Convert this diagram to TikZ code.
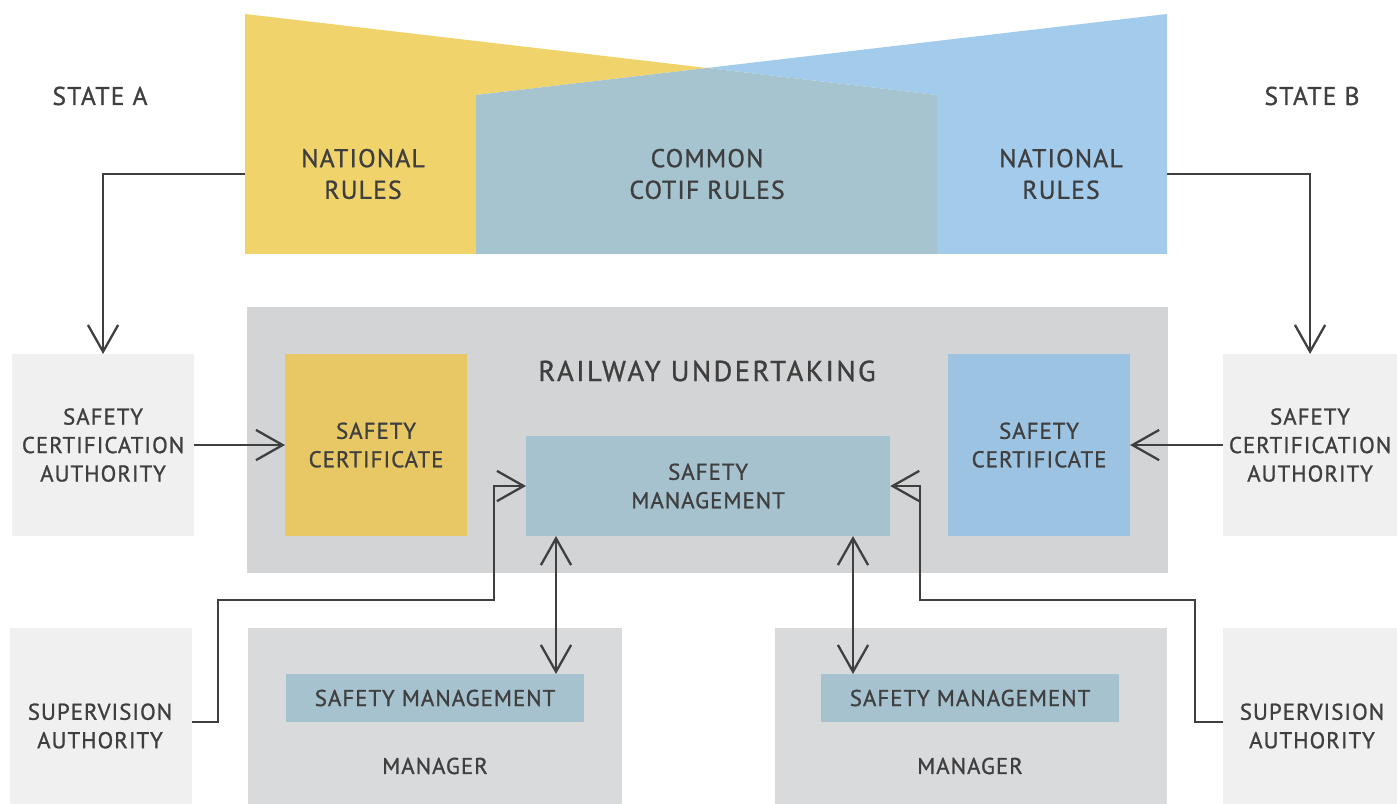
\documentclass[tikz,border=0pt]{standalone}
\usepackage{fontspec}
\setmainfont{PT Sans}[LetterSpace=4.5,FakeBold=1]
\usetikzlibrary{arrows.meta,positioning,calc}

\definecolor{ink}{HTML}{3F3F3F}
\definecolor{natyellow}{HTML}{F0D36B}
\definecolor{natblue}{HTML}{A2CBEC}
\definecolor{cotif}{HTML}{A5C4CF}
\definecolor{rugrey}{HTML}{D3D4D6}
\definecolor{authgrey}{HTML}{F0F0F0}
\definecolor{certyellow}{HTML}{E8C864}
\definecolor{certblue}{HTML}{9DC3E3}
\definecolor{mangrey}{HTML}{D9DADC}
\definecolor{smteal}{HTML}{A5C2CE}

\tikzset{
  box/.style={inner sep=0pt, outer sep=0pt, anchor=north west, text=ink, align=center},
  big/.style={text=ink, align=center, font=\fontsize{7.3}{9}\selectfont},
  small/.style={font=\fontsize{6.5}{8.1}\selectfont},
  arr/.style={draw=ink, line width=0.65pt, -{Straight Barb[length=7.6pt,width=8.6pt,line width=0.65pt]}},
  dbl/.style={arr, {Straight Barb[length=7.6pt,width=8.6pt,line width=0.65pt]}-{Straight Barb[length=7.6pt,width=8.6pt,line width=0.65pt]}},
}

\begin{document}
\begin{tikzpicture}[x=0.01cm,y=-0.01cm]
  \useasboundingbox (0,0) rectangle (1397,804);

  % rule sets of both states with the common part in between
  \fill[natyellow] (245,14) -- (707,68) -- (476,95) -- (476,254) -- (245,254) -- cycle;
  \fill[natblue] (1167,14) -- (707,68) -- (937,95) -- (937,254) -- (1167,254) -- cycle;
  \fill[cotif] (476,95) -- (707,68) -- (937,95) -- (937,254) -- (476,254) -- cycle;

  \node[big] (stateA) at (100,96) {STATE A};
  \node[big] (stateB) at (1312,96) {STATE B};
  \node[big] (natA) at (363,174) {NATIONAL\\RULES};
  \node[big] (common) at (707,174) {COMMON\\COTIF RULES};
  \node[big] (natB) at (1061,174) {NATIONAL\\RULES};
  \coordinate (natAedge) at (245,174);
  \coordinate (natBedge) at (1167,174);

  % railway undertaking
  \node[box, fill=rugrey, minimum width=9.20cm, minimum height=2.66cm] (ru) at (247,307) {};
  \node[big, font=\fontsize{8.2}{10}\selectfont\addfontfeature{LetterSpace=8}] (rulabel) at (707,371) {RAILWAY UNDERTAKING};
  \node[box, small, fill=certyellow, minimum width=1.82cm, minimum height=1.82cm] (certA) at (285,354) {SAFETY\\CERTIFICATE};
  \node[box, small, fill=certblue, minimum width=1.82cm, minimum height=1.82cm] (certB) at (948,354) {SAFETY\\CERTIFICATE};
  \node[box, small, fill=smteal, minimum width=3.64cm, minimum height=1.00cm] (sm) at (526,436) {SAFETY\\MANAGEMENT};

  % authorities
  \node[box, small, fill=authgrey, minimum width=1.82cm, minimum height=1.82cm] (scaA) at (12,354) {SAFETY\\CERTIFICATION\\AUTHORITY};
  \node[box, small, fill=authgrey, minimum width=1.74cm, minimum height=1.82cm] (scaB) at (1223,354) {SAFETY\\CERTIFICATION\\AUTHORITY};
  \node[box, fill=authgrey, minimum width=1.82cm, minimum height=1.76cm] (supA) at (10,628) {};
  \node[box, fill=authgrey, minimum width=1.74cm, minimum height=1.76cm] (supB) at (1223,628) {};
  \node[big, small] (supAlabel) at (100,726) {SUPERVISION\\AUTHORITY};
  \node[big, small] (supBlabel) at (1312,726) {SUPERVISION\\AUTHORITY};

  % infrastructure managers
  \node[box, fill=mangrey, minimum width=3.74cm, minimum height=1.76cm] (manA) at (248,628) {};
  \node[box, fill=mangrey, minimum width=3.92cm, minimum height=1.76cm] (manB) at (775,628) {};
  \node[box, small, fill=smteal, minimum width=2.98cm, minimum height=0.48cm] (smA) at (286,674) {SAFETY MANAGEMENT};
  \node[box, small, fill=smteal, minimum width=2.98cm, minimum height=0.48cm] (smB) at (821,674) {SAFETY MANAGEMENT};
  \node[big, small] (manAlabel) at (435,766) {MANAGER};
  \node[big, small] (manBlabel) at (970,766) {MANAGER};

  % connectors
  \draw[arr] (natAedge) -| (scaA.north);
  \draw[arr] (natBedge) -| (scaB.north);
  \draw[arr] (scaA.east) -- (certA.west);
  \draw[arr] (scaB.west) -- (certB.east);
  \draw[arr] ([yshift=-0.06cm]supA.east) -- ++(26,0) |- (494,600) |- (sm.west);
  \draw[arr] ([yshift=-0.06cm]supB.west) -- ++(-28,0) |- (920,600) |- (sm.east);
  \coordinate (linkA) at (556,0);
  \coordinate (linkB) at (853,0);
  \draw[dbl] (sm.south -| linkA) -- (smA.north -| linkA);
  \draw[dbl] (sm.south -| linkB) -- (smB.north -| linkB);
\end{tikzpicture}
\end{document}
